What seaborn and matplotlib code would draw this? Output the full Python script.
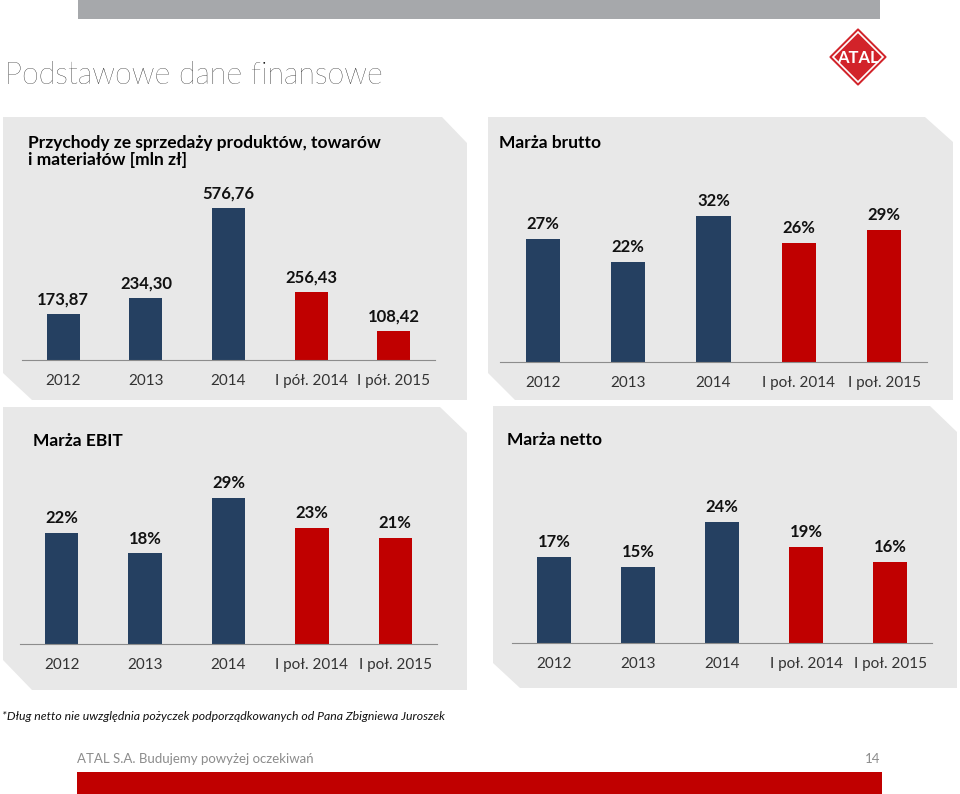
import numpy as np
import matplotlib
matplotlib.use("Agg")
import matplotlib.pyplot as plt
from matplotlib.patches import Polygon, Rectangle
import seaborn as sns

# data
categories = ["2012", "2013", "2014", "I pół. 2014", "I pół. 2015"]
categories_pol = ["2012", "2013", "2014", "I poł. 2014", "I poł. 2015"]
revenue = [173.87, 234.30, 576.76, 256.43, 108.42]
gross_margin = [27, 22, 32, 26, 29]
ebit_margin = [22, 18, 29, 23, 21]
net_margin = [17, 15, 24, 19, 16]
bar_colors = ["#254061", "#254061", "#254061", "#c00000", "#c00000"]

W, H = 960, 794
TITLE_C = "#000000"
PANEL = "#e8e8e8"

sns.set_style("white")
plt.rcParams["font.family"] = ["Lato", "DejaVu Sans"]

fig = plt.figure(figsize=(W / 100, H / 100), dpi=100)


def fx(x):
    return x / W


def fy(y):
    return 1 - y / H


def poly(points, **kw):
    pts = [(fx(x), fy(y)) for x, y in points]
    fig.patches.append(Polygon(pts, closed=True, transform=fig.transFigure, **kw))


def rect(x0, y0, x1, y1, **kw):
    fig.patches.append(Rectangle((fx(x0), fy(y1)), fx(x1) - fx(x0), fy(y0) - fy(y1),
                                 transform=fig.transFigure, **kw))


# header / footer decoration
rect(78, 0, 880, 19, color="#a6a8ab", lw=0)
rect(77, 772, 882, 794, color="#c00000", lw=0)

fig.text(fx(5), fy(76), "Podstawowe dane finansowe", fontsize=22, fontweight="light",
         color="#000000", va="center", ha="left")

# logo diamond
cx, cy, r = 858, 57, 28
poly([(cx, cy - r), (cx + r, cy), (cx, cy + r), (cx - r, cy)], facecolor="#d2232a", edgecolor="#d2232a", lw=1)
r2 = r - 3
poly([(cx, cy - r2), (cx + r2, cy), (cx, cy + r2), (cx - r2, cy)], facecolor="#d2232a", edgecolor="white", lw=1.2)
fig.text(fx(cx), fy(cy + 1), "ATAL", color="white", fontsize=12, fontweight="bold", ha="center", va="center")

# panels with clipped corners
poly([(3, 117), (442, 117), (467, 143), (467, 400), (32, 400), (3, 373)], facecolor=PANEL, lw=0)
poly([(488, 117), (925, 117), (953, 142), (953, 400), (515, 400), (488, 373)], facecolor=PANEL, lw=0)
poly([(3, 407), (440, 407), (467, 433), (467, 690), (32, 690), (3, 660)], facecolor=PANEL, lw=0)
poly([(493, 406), (930, 406), (957, 432), (957, 688), (520, 688), (493, 663)], facecolor=PANEL, lw=0)

fig.text(fx(28), fy(143), "Przychody ze sprzedaży produktów, towarów", fontsize=12.5,
         fontweight="bold", va="center", color=TITLE_C)
fig.text(fx(28), fy(160), "i materiałów [mln zł]", fontsize=12.5, fontweight="bold",
         va="center", color=TITLE_C)
fig.text(fx(499), fy(143), "Marża brutto", fontsize=12.5, fontweight="bold", va="center", color=TITLE_C)
fig.text(fx(33), fy(441), "Marża EBIT", fontsize=12.5, fontweight="bold", va="center", color=TITLE_C)
fig.text(fx(507), fy(440), "Marża netto", fontsize=12.5, fontweight="bold", va="center", color=TITLE_C)


def bar_chart(box, values, labels, ticklabels, ymax):
    x0, x1, top, base = box
    ax = fig.add_axes([fx(x0), fy(base), fx(x1) - fx(x0), fy(top) - fy(base)])
    ax.set_zorder(5)
    ax.patch.set_alpha(0)
    sns.barplot(x=categories, y=values, hue=categories, palette=bar_colors, legend=False,
                width=0.4, saturation=1, linewidth=0, edgecolor="none", ax=ax)
    for cont, lab in zip(ax.containers, labels):
        ax.bar_label(cont, labels=[lab], padding=5, fontsize=12, fontweight="bold", color="#111111")
    ax.set_xlim(-0.5, len(categories) - 0.5)
    ax.set_ylim(0, ymax)
    ax.set_xticks(range(len(categories)))
    ax.set_xticklabels(ticklabels)
    ax.set_xticks(np.arange(-0.5, len(categories), 1), minor=True)
    ax.tick_params(axis="x", which="major", length=0, pad=10, labelsize=11, labelcolor="#333333")
    ax.tick_params(axis="x", which="minor", length=4, width=0.8, color="#8c8c8c", direction="out")
    ax.set_yticks([])
    ax.set_xlabel("")
    ax.set_ylabel("")
    for s in ["top", "left", "right"]:
        ax.spines[s].set_visible(False)
    ax.spines["bottom"].set_color("#8c8c8c")
    ax.spines["bottom"].set_linewidth(0.8)
    return ax


rev_labels = [f"{v:.2f}".replace(".", ",") for v in revenue]
bar_chart((22, 435, 190, 360), revenue, rev_labels, categories, 645)
bar_chart((500, 927, 190, 362), gross_margin, [f"{v}%" for v in gross_margin], categories_pol, 37.7)
bar_chart((20, 437, 470, 644), ebit_margin, [f"{v}%" for v in ebit_margin], categories_pol, 34.6)
bar_chart((512, 932, 470, 643), net_margin, [f"{v}%" for v in net_margin], categories_pol, 34.3)

fig.text(fx(2), fy(717), "*Dług netto nie uwzględnia pożyczek podporządkowanych od Pana Zbigniewa Juroszek",
         fontsize=8.8, fontstyle="italic", va="center", color="#111111")
fig.text(fx(77), fy(759), "ATAL S.A. Budujemy powyżej oczekiwań", fontsize=9.5,
         color="#8c8c8c", va="center")
fig.text(fx(880), fy(759), "14", fontsize=9.5, color="#8c8c8c", va="center", ha="right")

fig.savefig("out.png", dpi=100)
